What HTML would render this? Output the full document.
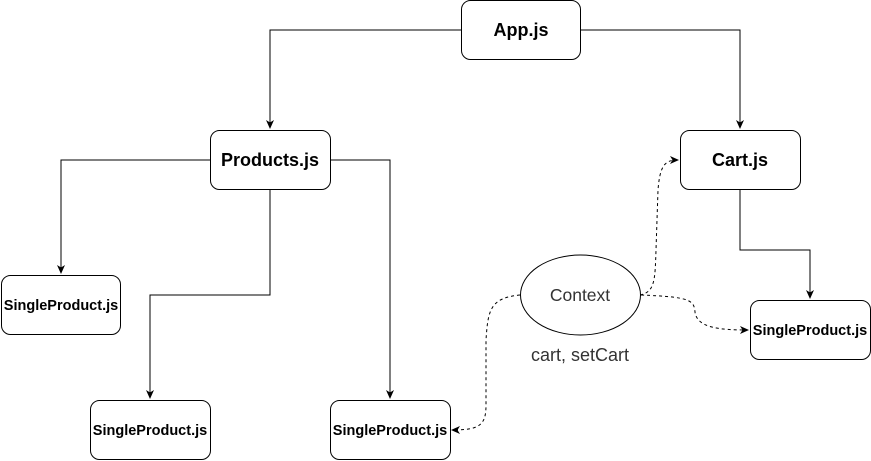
<!DOCTYPE html>
<html><head><style>
body{margin:0;background:#fff}
svg{display:block}
text{font-family:"Liberation Sans",Arial,sans-serif;fill:#000}
</style></head><body>
<svg width="871" height="461" viewBox="0 0 871 461" xmlns="http://www.w3.org/2000/svg">
<defs>
<marker id="a" markerWidth="10" markerHeight="10" refX="8" refY="5" orient="auto" markerUnits="userSpaceOnUse">
<path d="M0,1 L9,5 L0,9 L2.5,5 Z" fill="#000"/>
</marker>
</defs>
<g fill="none" stroke="#000" stroke-width="1">
<path d="M461,30 H270 V128" marker-end="url(#a)"/>
<path d="M580,30 H740 V128" marker-end="url(#a)"/>
<path d="M210,160 H61 V273" marker-end="url(#a)"/>
<path d="M270,190 V295 H150 V398" marker-end="url(#a)"/>
<path d="M330,160 H390 V398" marker-end="url(#a)"/>
<path d="M740,190 V250 H810 V298" marker-end="url(#a)"/>
<g stroke-dasharray="3,3">
<path d="M520,295 C490,298 488,310 486,340 L486,405 C486,425 480,430 452,430" marker-end="url(#a)"/>
<path d="M640,295 C655,292 655,280 656,250 L658,190 C660,165 665,160 678,160" marker-end="url(#a)"/>
<path d="M641,295 C690,297 694,300 695,312 C697,328 720,330 748,330" marker-end="url(#a)"/>
</g>
</g>
<g fill="#fff" stroke="#000">
<rect x="461.5" y="0.5" width="119" height="59" rx="9"/>
<rect x="210.5" y="130.5" width="120" height="59" rx="9"/>
<rect x="680.5" y="130.5" width="120" height="59" rx="9"/>
<rect x="1.5" y="275.5" width="119" height="59" rx="9"/>
<rect x="90.5" y="400.5" width="120" height="59" rx="9"/>
<rect x="330.5" y="400.5" width="120" height="59" rx="9"/>
<rect x="750.5" y="300.5" width="120" height="59" rx="9"/>
<ellipse cx="580.5" cy="295" rx="60" ry="40"/>
</g>
<g font-weight="bold" text-anchor="middle">
<text x="521" y="36" font-size="18">App.js</text>
<text x="270" y="166" font-size="18">Products.js</text>
<text x="740" y="166" font-size="18">Cart.js</text>
<text x="61" y="310" font-size="14.5">SingleProduct.js</text>
<text x="150" y="435" font-size="14.5">SingleProduct.js</text>
<text x="390" y="435" font-size="14.5">SingleProduct.js</text>
<text x="810" y="335" font-size="14.5">SingleProduct.js</text>
</g>
<text x="580" y="301" font-size="17.5" text-anchor="middle" style="fill:#333">Context</text>
<text x="580" y="361" font-size="18" text-anchor="middle" style="fill:#333">cart, setCart</text>
</svg>
</body></html>
